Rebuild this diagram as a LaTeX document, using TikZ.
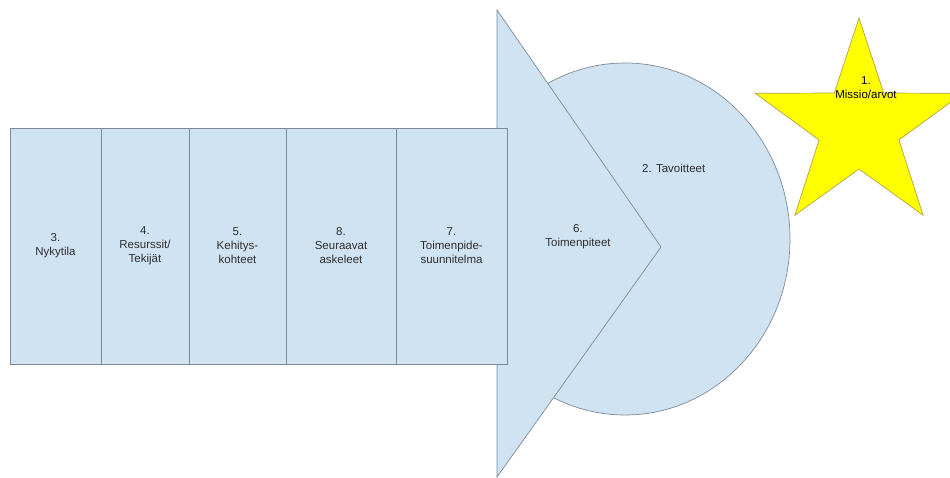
\documentclass[tikz,border=0pt]{standalone}
\usepackage{fontspec}
\setmainfont{Liberation Sans}
\usetikzlibrary{shapes.geometric}
\definecolor{boxfill}{HTML}{D0E3F3}
\definecolor{boxline}{HTML}{7D8A96}
\definecolor{starfill}{HTML}{FFFF00}
\definecolor{starline}{HTML}{B3A346}
\definecolor{txt}{HTML}{2E2E2E}
\tikzset{
  colbox/.style={draw=boxline, fill=boxfill, line width=0.8pt, minimum height=236pt, inner sep=0pt, align=center, text=txt, font=\fontsize{11.5}{14}\selectfont},
  blueshape/.style={draw=boxline, fill=boxfill, line width=0.7pt},
  lbl/.style={align=center, text=txt, font=\fontsize{11.5}{14}\selectfont, inner sep=0pt}
}
\begin{document}
\begin{tikzpicture}[x=1pt,y=-1pt]
\useasboundingbox (0,0) rectangle (950,478);
\clip (0,0) rectangle (950,478);
% ellipse (goals)
\node[blueshape, ellipse, minimum width=330pt, minimum height=352pt, inner sep=0pt] (goal) at (625,239) {};
% arrow head triangle
\draw[blueshape] (497,10) coordinate (ta) -- (661,247) coordinate (tb) -- (497,477) coordinate (tc) -- cycle;
\node[lbl] (act) at (578,237) {6.\\Toimenpiteet};
\node[lbl, anchor=west] (goaltxt) at (642,168) {2. Tavoitteet};
% columns
\node[colbox, minimum width=91pt] (c3) at (55.5,246) {3.\\Nykytila};
\node[colbox, minimum width=88pt] (c4) at (145,246) {4.\\Resurssit/\\Tekijät};
\node[colbox, minimum width=97pt] (c5) at (237.5,246) {5.\\Kehitys-\\kohteet};
\node[colbox, minimum width=110pt] (c8) at (341,246) {8.\\Seuraavat\\askeleet};
\node[colbox, minimum width=111pt] (c7) at (451.5,246) {7.\\Toimenpide-\\suunnitelma};
% star
\coordinate (sc) at (859,127);
\draw[draw=starline, fill=starfill, line width=0.7pt]
  ([shift={(-90:109)}]sc) -- ([shift={(-54:42)}]sc) -- ([shift={(-18:109)}]sc)
  -- ([shift={(18:42)}]sc) -- ([shift={(54:109)}]sc) -- ([shift={(90:42)}]sc)
  -- ([shift={(126:109)}]sc) -- ([shift={(162:42)}]sc) -- ([shift={(198:109)}]sc)
  -- ([shift={(234:42)}]sc) -- cycle;
\node[lbl, text=black] (mission) at (866,88) {1.\\Missio/arvot};
\end{tikzpicture}
\end{document}
